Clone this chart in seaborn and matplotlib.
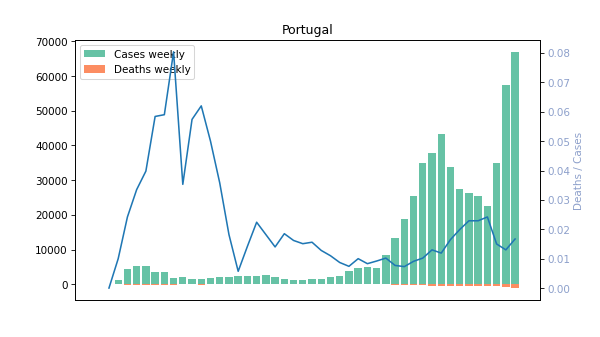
import numpy as np
import pandas as pd
import matplotlib
matplotlib.use("Agg")
import matplotlib.pyplot as plt
import seaborn as sns

# weekly positions (0..44); bars start at week 1
weeks_line = list(range(0, 45))
weeks_bar = list(range(1, 45))

cases_weekly = [1240, 4400, 5280, 5280, 3550, 3550, 1820, 2100, 1530, 1530,
                1820, 2100, 2100, 2390, 2390, 2390, 2680, 2100, 1530, 1240,
                1240, 1530, 1530, 2100, 2390, 3840, 4700, 5000, 4700, 8450,
                13360, 18840, 25480, 35000, 37880, 43370, 33850, 27500, 26340, 25480,
                22590, 35000, 57500, 67020]

deaths_weekly = [12, 106, 177, 210, 207, 209, 146, 74, 88, 95,
                 91, 75, 38, 14, 34, 54, 49, 29, 28, 20,
                 19, 24, 20, 23, 21, 28, 47, 42, 43, 86,
                 103, 138, 232, 357, 492, 516, 558, 547, 603, 583,
                 547, 525, 748, 1119]

deaths_per_cases = [0.0, 0.0100, 0.0242, 0.0335, 0.0398, 0.0584, 0.0590, 0.0804, 0.0353, 0.0574,
                    0.0620, 0.0500, 0.0358, 0.0182, 0.0057, 0.0142, 0.0224, 0.0182, 0.0140, 0.0185,
                    0.0162, 0.0151, 0.0156, 0.0128, 0.0110, 0.0087, 0.0074, 0.0100, 0.0083, 0.0092,
                    0.0102, 0.0077, 0.0073, 0.0091, 0.0102, 0.0130, 0.0119, 0.0165, 0.0199, 0.0229,
                    0.0229, 0.0242, 0.0150, 0.0130, 0.0167]

pal = sns.color_palette("Set2")

bars = pd.DataFrame({"week": weeks_bar, "cases": cases_weekly,
                     "deaths": [-d for d in deaths_weekly]})
line = pd.DataFrame({"week": weeks_line, "ratio": deaths_per_cases})

fig, ax = plt.subplots(figsize=(8, 4.5), dpi=75)
sns.barplot(data=bars, x="week", y="cases", native_scale=True, color=pal[0],
            saturation=1, label="Cases weekly", ax=ax)
sns.barplot(data=bars, x="week", y="deaths", native_scale=True, color=pal[1],
            saturation=1, label="Deaths weekly", ax=ax)
ax.legend(loc="upper left")
ax.set_xlabel("")
ax.set_ylabel("")
ax.set_title("Portugal")

ax2 = ax.twinx()
sns.lineplot(data=line, x="week", y="ratio", color="#1f77b4", ax=ax2)
ax2.set_ylabel("Deaths / Cases", color=pal[2])
ax2.tick_params(axis="y", labelcolor=pal[2])
ax2.yaxis.set_major_formatter(matplotlib.ticker.FormatStrFormatter("%.2f"))
ax.set_xlim(-3.68, 46.7)
ax.set_xticks([])
ax2.set_xticks([])
ax2.set_xlabel("")

fig.savefig("out.png", dpi=75)
